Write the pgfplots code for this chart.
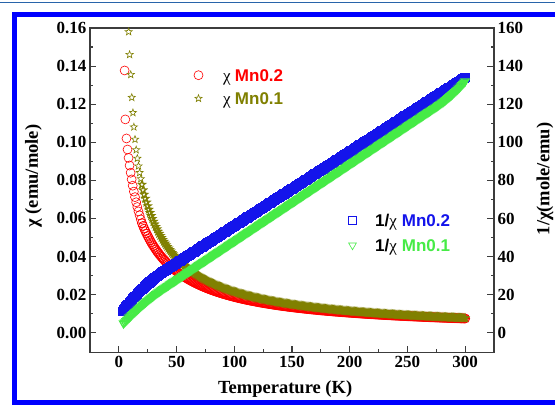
\documentclass[border=0pt]{standalone}
\usepackage{pgfplots}
\usepackage{pgfplotstable}
\pgfplotsset{compat=1.18}
\usepackage{fontspec}
\setmainfont{Liberation Serif}
\newfontfamily\arialfont{Liberation Sans}
\definecolor{olv}{RGB}{128,128,0}
\definecolor{grn}{RGB}{70,235,70}
\definecolor{frameblue}{RGB}{0,0,255}
\definecolor{dblue}{RGB}{20,20,235}
\definecolor{topline}{RGB}{40,100,170}
\definecolor{axgray}{RGB}{60,60,60}
\pgfdeclareplotmark{ostar}{%
 \pgfpathmoveto{\pgfpointpolar{90}{\pgfplotmarksize}}%
 \pgfpathlineto{\pgfpointpolar{126}{0.42\pgfplotmarksize}}%
 \pgfpathlineto{\pgfpointpolar{162}{\pgfplotmarksize}}%
 \pgfpathlineto{\pgfpointpolar{198}{0.42\pgfplotmarksize}}%
 \pgfpathlineto{\pgfpointpolar{234}{\pgfplotmarksize}}%
 \pgfpathlineto{\pgfpointpolar{270}{0.42\pgfplotmarksize}}%
 \pgfpathlineto{\pgfpointpolar{306}{\pgfplotmarksize}}%
 \pgfpathlineto{\pgfpointpolar{342}{0.42\pgfplotmarksize}}%
 \pgfpathlineto{\pgfpointpolar{18}{\pgfplotmarksize}}%
 \pgfpathlineto{\pgfpointpolar{54}{0.42\pgfplotmarksize}}%
 \pgfpathclose\pgfusepathqstroke}
\pgfplotsset{
  commonaxis/.style={
    at={(0pt,0pt)}, anchor=south west,
    scale only axis, width=404pt, height=324.7pt,
    xmin=-25, xmax=325,
    tick align=inside,
    major tick length=6.5pt, minor tick length=3.5pt,
    axis line style={axgray, line width=1.3pt},
    every tick/.style={axgray, line width=1.1pt},
    tick label style={font=\fontsize{17}{20}\selectfont\bfseries},
    /pgf/number format/assume math mode=true,
    label style={font=\fontsize{18.5}{22}\selectfont\bfseries},
    legend cell align=left,
  }
}
% measured data, T >= 20 K: T, chi(Mn0.2), chi(Mn0.1), 1/chi(Mn0.2), 1/chi(Mn0.1)
\pgfplotstableread{
T c2 c1 r2 r1
20 0.05754 0.0778 22.78 14.35
21 0.05605 0.07484 23.36 14.88
22 0.05464 0.07257 23.94 15.41
23 0.05330 0.07043 24.51 15.93
24 0.05203 0.06841 25.06 16.44
25 0.05081 0.06650 25.61 16.95
26 0.04965 0.06470 26.15 17.45
27 0.04854 0.06299 26.68 17.95
28 0.04748 0.06137 27.19 18.43
29 0.04648 0.05983 27.70 18.91
30 0.04552 0.05837 28.19 19.39
31 0.04458 0.05697 28.68 19.85
32 0.04369 0.05564 29.16 20.32
33 0.04284 0.05438 29.62 20.77
34 0.04202 0.05316 30.08 21.22
35 0.04123 0.05200 30.52 21.66
36 0.04047 0.05090 30.96 22.09
37 0.03974 0.04983 31.38 22.52
38 0.03903 0.04881 31.80 22.94
39 0.03835 0.04783 32.20 23.35
40 0.03769 0.04689 32.60 23.76
41 0.03706 0.04600 32.99 24.16
42 0.03644 0.04512 33.38 24.57
43 0.03585 0.04430 33.77 24.97
44 0.03527 0.04348 34.16 25.38
45 0.03472 0.04271 34.55 25.78
46 0.03418 0.04195 34.94 26.18
47 0.03367 0.04123 35.33 26.59
48 0.03316 0.04052 35.72 26.99
49 0.03268 0.03985 36.11 27.40
50 0.03220 0.03919 36.50 27.80
51 0.03174 0.03857 36.89 28.20
52 0.03129 0.03795 37.28 28.61
53 0.03086 0.03736 37.67 29.01
54 0.03043 0.03678 38.06 29.42
55 0.03002 0.03623 38.45 29.82
56 0.02962 0.03568 38.84 30.22
57 0.02923 0.03516 39.23 30.63
58 0.02885 0.03464 39.62 31.03
59 0.02848 0.03415 40.01 31.44
60 0.02812 0.03366 40.40 31.84
61 0.02777 0.03320 40.79 32.24
62 0.02743 0.03274 41.18 32.65
63 0.02710 0.03230 41.57 33.05
64 0.02677 0.03186 41.96 33.46
65 0.02646 0.03145 42.35 33.86
66 0.02615 0.03104 42.74 34.26
67 0.02585 0.03064 43.13 34.67
68 0.02556 0.03025 43.52 35.07
69 0.02527 0.02987 43.91 35.48
70 0.02499 0.02950 44.30 35.88
71 0.02471 0.02914 44.69 36.28
72 0.02444 0.02879 45.08 36.69
73 0.02418 0.02845 45.47 37.09
74 0.02392 0.02811 45.86 37.50
75 0.02367 0.02778 46.25 37.90
76 0.02342 0.02746 46.64 38.30
77 0.02318 0.02715 47.03 38.71
78 0.02295 0.02685 47.42 39.11
79 0.02272 0.02655 47.81 39.52
80 0.02249 0.02625 48.20 39.92
81 0.02227 0.02597 48.59 40.32
82 0.02206 0.02569 48.98 40.73
83 0.02185 0.02542 49.37 41.13
84 0.02164 0.02515 49.76 41.54
85 0.02143 0.02489 50.15 41.94
86 0.02123 0.02463 50.54 42.34
87 0.02103 0.02438 50.93 42.75
88 0.02084 0.02413 51.32 43.15
89 0.02065 0.02389 51.71 43.56
90 0.02047 0.02365 52.10 43.96
91 0.02029 0.02342 52.49 44.36
92 0.02011 0.02319 52.88 44.77
93 0.01993 0.02297 53.27 45.17
94 0.01976 0.02275 53.66 45.58
95 0.01959 0.02253 54.05 45.98
96 0.01943 0.02232 54.44 46.38
97 0.01926 0.02211 54.83 46.79
98 0.01910 0.02191 55.22 47.19
99 0.01894 0.02171 55.61 47.60
100 0.01879 0.02152 56.00 48.00
101 0.01863 0.02133 56.39 48.40
102 0.01848 0.02114 56.78 48.81
103 0.01833 0.02095 57.17 49.21
104 0.01819 0.02077 57.56 49.62
105 0.01805 0.02059 57.95 50.02
106 0.01791 0.02041 58.34 50.42
107 0.01777 0.02024 58.73 50.83
108 0.01764 0.02007 59.12 51.23
109 0.01750 0.01990 59.51 51.64
110 0.01737 0.01974 59.90 52.04
111 0.01724 0.01958 60.29 52.44
112 0.01711 0.01942 60.68 52.85
113 0.01699 0.01926 61.07 53.25
114 0.01687 0.01911 61.46 53.66
115 0.01675 0.01896 61.85 54.06
116 0.01663 0.01881 62.24 54.46
117 0.01651 0.01866 62.63 54.87
118 0.01639 0.01851 63.02 55.27
119 0.01627 0.01837 63.41 55.68
120 0.01616 0.01823 63.80 56.08
121 0.01605 0.01809 64.19 56.48
122 0.01594 0.01796 64.58 56.89
123 0.01583 0.01782 64.97 57.29
124 0.01573 0.01769 65.36 57.70
125 0.01562 0.01756 65.75 58.10
126 0.01552 0.01743 66.14 58.50
127 0.01542 0.01730 66.53 58.91
128 0.01532 0.01718 66.92 59.31
129 0.01522 0.01706 67.31 59.72
130 0.01512 0.01694 67.70 60.12
131 0.01502 0.01682 68.09 60.52
132 0.01493 0.01670 68.48 60.93
133 0.01483 0.01658 68.87 61.33
134 0.01474 0.01647 69.26 61.74
135 0.01465 0.01635 69.65 62.14
136 0.01456 0.01624 70.04 62.54
137 0.01447 0.01613 70.43 62.95
138 0.01438 0.01603 70.82 63.35
139 0.01429 0.01592 71.21 63.76
140 0.01421 0.01581 71.60 64.16
141 0.01412 0.01571 71.99 64.56
142 0.01404 0.01561 72.38 64.97
143 0.01395 0.01551 72.77 65.37
144 0.01387 0.01541 73.16 65.78
145 0.01379 0.01531 73.55 66.18
146 0.01371 0.01521 73.94 66.58
147 0.01363 0.01511 74.33 66.99
148 0.01356 0.01502 74.72 67.39
149 0.01348 0.01492 75.11 67.80
150 0.01340 0.01483 75.50 68.20
151 0.01333 0.01474 75.89 68.60
152 0.01326 0.01465 76.28 69.01
153 0.01318 0.01456 76.67 69.41
154 0.01311 0.01447 77.06 69.82
155 0.01304 0.01438 77.45 70.22
156 0.01297 0.01430 77.84 70.62
157 0.01290 0.01421 78.23 71.03
158 0.01283 0.01413 78.62 71.43
159 0.01276 0.01404 79.01 71.84
160 0.01269 0.01396 79.40 72.24
161 0.01262 0.01388 79.79 72.64
162 0.01256 0.01380 80.18 73.05
163 0.01249 0.01372 80.57 73.45
164 0.01243 0.01364 80.96 73.86
165 0.01236 0.01356 81.35 74.26
166 0.01230 0.01349 81.74 74.66
167 0.01224 0.01341 82.13 75.07
168 0.01218 0.01334 82.52 75.47
169 0.01212 0.01326 82.91 75.88
170 0.01206 0.01319 83.30 76.28
171 0.01200 0.01312 83.69 76.68
172 0.01194 0.01305 84.08 77.09
173 0.01188 0.01298 84.47 77.49
174 0.01182 0.01291 84.86 77.90
175 0.01176 0.01284 85.25 78.30
176 0.01171 0.01277 85.64 78.70
177 0.01165 0.01270 86.03 79.11
178 0.01160 0.01263 86.42 79.51
179 0.01154 0.01256 86.81 79.92
180 0.01149 0.01250 87.20 80.32
181 0.01143 0.01243 87.59 80.72
182 0.01138 0.01237 87.98 81.13
183 0.01133 0.01230 88.37 81.53
184 0.01128 0.01224 88.76 81.94
185 0.01122 0.01218 89.15 82.34
186 0.01117 0.01212 89.54 82.74
187 0.01112 0.01206 89.93 83.15
188 0.01107 0.01200 90.32 83.55
189 0.01102 0.01194 90.71 83.96
190 0.01097 0.01188 91.10 84.36
191 0.01092 0.01182 91.49 84.76
192 0.01088 0.01176 91.88 85.17
193 0.01083 0.01170 92.27 85.57
194 0.01078 0.01165 92.66 85.98
195 0.01073 0.01159 93.05 86.38
196 0.01069 0.01153 93.44 86.78
197 0.01064 0.01147 93.83 87.19
198 0.01060 0.01142 94.22 87.59
199 0.01055 0.01136 94.61 88.00
200 0.01051 0.01131 95.00 88.40
201 0.01046 0.01126 95.39 88.80
202 0.01042 0.01121 95.78 89.21
203 0.01037 0.01115 96.17 89.61
204 0.01033 0.01110 96.56 90.02
205 0.01029 0.01105 96.95 90.42
206 0.01025 0.01100 97.34 90.82
207 0.01020 0.01095 97.73 91.23
208 0.01016 0.01090 98.12 91.63
209 0.01012 0.01085 98.51 92.04
210 0.01008 0.01080 98.90 92.44
211 0.01004 0.01075 99.29 92.84
212 0.01000 0.01071 99.68 93.25
213 0.00996 0.01066 100.07 93.65
214 0.00992 0.01061 100.46 94.06
215 0.00988 0.01056 100.85 94.46
216 0.00984 0.01052 101.24 94.86
217 0.00980 0.01047 101.63 95.27
218 0.00977 0.01042 102.02 95.67
219 0.00973 0.01037 102.41 96.08
220 0.00969 0.01033 102.80 96.48
221 0.00965 0.01029 103.19 96.88
222 0.00962 0.01025 103.58 97.29
223 0.00958 0.01020 103.97 97.69
224 0.00954 0.01016 104.36 98.10
225 0.00950 0.01011 104.75 98.50
226 0.00947 0.01007 105.14 98.90
227 0.00943 0.01003 105.53 99.31
228 0.00940 0.00999 105.92 99.71
229 0.00936 0.00995 106.31 100.12
230 0.00933 0.00991 106.70 100.52
231 0.00930 0.00986 107.09 100.92
232 0.00927 0.00982 107.48 101.33
233 0.00923 0.00978 107.87 101.73
234 0.00920 0.00974 108.26 102.14
235 0.00916 0.00970 108.65 102.54
236 0.00913 0.00966 109.04 102.94
237 0.00910 0.00962 109.43 103.35
238 0.00907 0.00959 109.82 103.75
239 0.00903 0.00955 110.21 104.16
240 0.00900 0.00951 110.60 104.56
241 0.00897 0.00947 110.99 104.96
242 0.00894 0.00944 111.38 105.37
243 0.00891 0.00940 111.77 105.77
244 0.00888 0.00936 112.16 106.18
245 0.00885 0.00932 112.55 106.58
246 0.00882 0.00929 112.94 106.98
247 0.00879 0.00925 113.33 107.39
248 0.00876 0.00922 113.72 107.79
249 0.00873 0.00918 114.11 108.20
250 0.00870 0.00915 114.50 108.60
251 0.00867 0.00911 114.89 109.00
252 0.00864 0.00908 115.28 109.41
253 0.00861 0.00904 115.67 109.81
254 0.00858 0.00901 116.06 110.22
255 0.00855 0.00897 116.45 110.62
256 0.00853 0.00894 116.84 111.02
257 0.00850 0.00890 117.23 111.43
258 0.00847 0.00887 117.62 111.83
259 0.00844 0.00884 118.01 112.24
260 0.00842 0.00881 118.40 112.64
261 0.00839 0.00877 118.79 113.04
262 0.00836 0.00874 119.18 113.45
263 0.00833 0.00871 119.57 113.85
264 0.00831 0.00868 119.96 114.26
265 0.00828 0.00865 120.35 114.66
266 0.00826 0.00862 120.74 115.06
267 0.00823 0.00859 121.13 115.47
268 0.00820 0.00856 121.52 115.87
269 0.00817 0.00852 121.91 116.28
270 0.00815 0.00849 122.30 116.68
271 0.00812 0.00846 122.69 117.08
272 0.00810 0.00843 123.08 117.49
273 0.00807 0.00840 123.47 117.89
274 0.00805 0.00838 123.86 118.30
275 0.00802 0.00835 124.25 118.70
276 0.00800 0.00832 124.64 119.10
277 0.00798 0.00829 125.03 119.52
278 0.00796 0.00826 125.42 119.93
279 0.00793 0.00823 125.81 120.37
280 0.00791 0.00820 126.20 120.81
281 0.00788 0.00817 126.59 121.26
282 0.00786 0.00815 126.98 121.73
283 0.00784 0.00812 127.37 122.20
284 0.00782 0.00809 127.76 122.70
285 0.00779 0.00806 128.15 123.19
286 0.00777 0.00804 128.54 123.70
287 0.00774 0.00801 128.93 124.22
288 0.00772 0.00798 129.32 124.75
289 0.00770 0.00795 129.71 125.30
290 0.00768 0.00793 130.10 125.85
291 0.00766 0.00790 130.49 126.41
292 0.00764 0.00788 130.88 126.99
293 0.00761 0.00785 131.27 127.58
294 0.00759 0.00783 131.66 128.18
295 0.00757 0.00780 132.05 128.79
296 0.00755 0.00778 132.44 129.40
297 0.00753 0.00775 132.83 130.04
298 0.00751 0.00772 133.22 130.68
299 0.00749 0.00769 133.61 131.34
300 0.00747 0.00767 134.00 132.00
}\maindata
\begin{document}
\begin{tikzpicture}
\useasboundingbox (-90pt,-52.3pt) rectangle (465pt,352.7pt);
\fill[white] (-90pt,-52.3pt) rectangle (465pt,352.7pt);
\draw[line width=1.8pt, topline] (-90pt,350.2pt) -- (465pt,350.2pt);
\draw[line width=4.7pt, frameblue] (470pt,338.4pt) -- (-75.7pt,338.4pt) -- (-75.7pt,-50pt) -- (470pt,-50pt);

\begin{axis}[commonaxis,
  ymin=-0.0105, ymax=0.16,
  xtick={0,50,100,150,200,250,300},
  ytick={0,0.02,0.04,0.06,0.08,0.10,0.12,0.14,0.16},
  minor x tick num=1, minor y tick num=1,
  tick pos=left,
  scaled y ticks=false,
  yticklabel style={/pgf/number format/.cd, fixed, fixed zerofill, precision=2},
  xlabel={Temperature (K)}, ylabel={χ (emu/mole)},
  xlabel style={at={(axis description cs:0.483,-0.112)}, anchor=center},
  ylabel style={at={(axis description cs:-0.14,0.544)}, anchor=center},
  legend style={draw=none, fill=none, at={(axis description cs:0.2532,0.8768)}, anchor=north west,
    inner sep=0pt, row sep=9.3pt, font=\fontsize{17}{20}\selectfont,
    nodes={inner sep=1pt, text height=12pt, text depth=0pt}},
  legend image code/.code={\path[draw=none,fill=none] (-6pt,-6pt) rectangle (23.7pt,6pt); \draw[every mark/.append style={line width=0.6pt}] plot coordinates {(0pt,0pt)};},
]
\addplot[only marks, mark=o, mark size=4.5pt, red, mark options={line width=0.6pt}, forget plot] coordinates {
(5,0.1377) (5.6,0.112) (6.6,0.102) (7.5,0.0962) (8.4,0.0918) (9.3,0.0878) (10.2,0.0840) (11.1,0.0805)
(12,0.0772) (13,0.0741) (14,0.0712) (15,0.0685) (16,0.0660) (17,0.0637) (18,0.0616) (19,0.0595)
};
\addplot[only marks, mark=o, mark size=4.5pt, red, mark options={line width=0.85pt}] table[x=T, y=c2] {\maindata};
\addlegendentry{χ\ {\arialfont\bfseries\color{red}Mn0.2}}
\addplot[only marks, mark=ostar, mark size=3.8pt, olv, mark options={line width=0.6pt}, forget plot] coordinates {
(8.5,0.158) (9.3,0.146) (10.3,0.1355) (11.2,0.1235) (12.2,0.1155) (13,0.108) (14,0.1015) (15,0.096)
(16,0.0915) (17,0.0875) (18,0.0840) (19,0.0808)
};
\addplot[only marks, mark=ostar, mark size=3.8pt, olv, mark options={line width=1.1pt}] table[x=T, y=c1] {\maindata};
\addlegendentry{χ\ {\arialfont\bfseries\color{olv}Mn0.1}}
\end{axis}

\begin{axis}[commonaxis,
  ymin=-10.5, ymax=160,
  axis x line=none, axis y line*=right,
  ytick={0,20,40,60,80,100,120,140,160},
  minor y tick num=1,
  ylabel={1/χ(mole/emu)},
  ylabel style={at={(axis description cs:1.1262,0.535)}, anchor=center},
  legend style={draw=none, fill=none, at={(axis description cs:0.6344,0.4302)}, anchor=north west,
    inner sep=0pt, row sep=11pt, font=\fontsize{17}{20}\selectfont,
    nodes={inner sep=1pt, text height=12pt, text depth=0pt}},
  legend image code/.code={\path[draw=none,fill=none] (-6pt,-6pt) rectangle (21.7pt,6pt); \draw[every mark/.append style={line width=0.6pt}] plot coordinates {(0pt,0pt)};},
]
\addplot[only marks, mark=square, mark size=4pt, dblue, mark options={line width=1.3pt}, forget plot] coordinates {
(3,11.24) (4,12.00) (5,12.75) (6,13.49) (7,14.22) (8,14.94) (9,15.65) (10,16.35) (11,17.03) (12,17.71)
(13,18.38) (14,19.04) (15,19.69) (16,20.33) (17,20.95) (18,21.57) (19,22.18)
};
\addplot[only marks, mark=square, mark size=4pt, dblue, mark options={line width=1.3pt}] table[x=T, y=r2] {\maindata};
\addlegendentry{{\arialfont\bfseries 1/}χ\hspace{5pt}{\arialfont\bfseries\color{dblue}Mn0.2}}
\addplot[only marks, mark=triangle, mark size=4.5pt, grn, mark options={line width=1.3pt, rotate=180}, forget plot] coordinates {
(4,4.90) (5,5.54) (6,6.17) (7,6.80) (8,7.42) (9,8.04) (10,8.64) (11,9.24) (12,9.84) (13,10.42)
(14,11.01) (15,11.58) (16,12.15) (17,12.71) (18,13.26) (19,13.81)
};
\addplot[only marks, mark=triangle, mark size=4.5pt, grn, mark options={line width=1.3pt, rotate=180}] table[x=T, y=r1] {\maindata};
\addlegendentry{{\arialfont\bfseries 1/}χ\hspace{5pt}{\arialfont\bfseries\color{grn}Mn0.1}}
\end{axis}
\end{tikzpicture}
\end{document}
